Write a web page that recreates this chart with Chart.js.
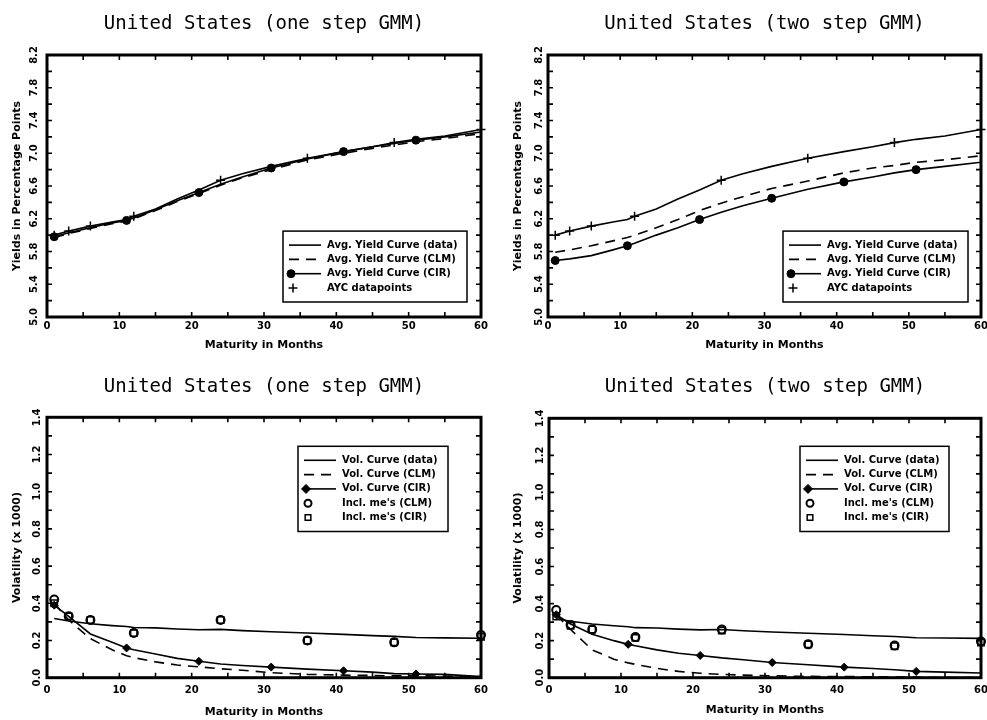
<!DOCTYPE html>
<html>
<head>
<meta charset="utf-8">
<title>United States GMM yield and volatility curves</title>
<script src="https://cdn.jsdelivr.net/npm/chart.js@4.4.1/dist/chart.umd.min.js"></script>
<style>
  body { margin: 0; background: #fff; }
  #page { position: relative; width: 987px; height: 720px; overflow: hidden; }
  canvas { position: absolute; }
</style>
</head>
<body>
<div id="page">
  <canvas id="yieldOne" width="493" height="360" style="left:0;top:0"></canvas>
  <canvas id="yieldTwo" width="494" height="360" style="left:493px;top:0"></canvas>
  <canvas id="volOne" width="493" height="360" style="left:0;top:360px"></canvas>
  <canvas id="volTwo" width="494" height="360" style="left:493px;top:360px"></canvas>
</div>
<script>
// Maturities (months) of the curve points
const months = [1, 3, 6, 9, 11, 12, 15, 18, 21, 24, 27, 31, 36, 41, 45, 48, 51, 55, 60];
// Maturities of the observed datapoints / implied vols
const obsMonths = [1, 3, 6, 12, 24, 36, 48, 60];
// Where the CIR curve carries a marker
const cirMarkerMonths = [1, 11, 21, 31, 41, 51];

// Average yield curve, percentage points
const yieldData = [6.00, 6.05, 6.11, 6.16, 6.19, 6.23, 6.32, 6.44, 6.55, 6.67, 6.75, 6.84, 6.94, 7.02, 7.08, 7.13, 7.17, 7.21, 7.29];
const yieldDatapoints = [6.00, 6.05, 6.11, 6.23, 6.67, 6.94, 7.13, 7.29];
const yieldClmOne = [5.97, 6.02, 6.08, 6.14, 6.17, 6.20, 6.30, 6.41, 6.51, 6.61, 6.70, 6.80, 6.92, 7.00, 7.06, 7.10, 7.14, 7.18, 7.24];
const yieldCirOne = [5.98, 6.03, 6.09, 6.15, 6.18, 6.21, 6.31, 6.42, 6.52, 6.62, 6.71, 6.82, 6.93, 7.02, 7.08, 7.12, 7.16, 7.20, 7.26];
const yieldClmTwo = [5.79, 5.82, 5.87, 5.93, 5.97, 6.00, 6.09, 6.19, 6.30, 6.39, 6.47, 6.57, 6.66, 6.76, 6.82, 6.85, 6.89, 6.92, 6.97];
const yieldCirTwo = [5.69, 5.71, 5.75, 5.82, 5.87, 5.90, 6.00, 6.09, 6.19, 6.28, 6.36, 6.45, 6.56, 6.65, 6.71, 6.76, 6.80, 6.84, 6.89];

// Volatility curve (x 1000)
const volData = [0.318, 0.305, 0.29, 0.28, 0.275, 0.27, 0.268, 0.262, 0.258, 0.26, 0.253, 0.247, 0.24, 0.233, 0.226, 0.222, 0.216, 0.214, 0.212];
const volClmOne = [0.40, 0.31, 0.21, 0.15, 0.118, 0.108, 0.085, 0.068, 0.058, 0.048, 0.04, 0.027, 0.018, 0.014, 0.012, 0.01, 0.01, 0.009, 0.006];
const volCirOne = [0.39, 0.33, 0.235, 0.19, 0.16, 0.15, 0.127, 0.104, 0.088, 0.074, 0.066, 0.057, 0.046, 0.037, 0.03, 0.022, 0.02, 0.018, 0.006];
const volClmTwo = [0.34, 0.26, 0.15, 0.10, 0.08, 0.072, 0.05, 0.034, 0.024, 0.018, 0.014, 0.01, 0.007, 0.006, 0.005, 0.004, 0.003, 0.001, 0.0];
const volCirTwo = [0.34, 0.29, 0.235, 0.2, 0.18, 0.172, 0.15, 0.132, 0.12, 0.107, 0.097, 0.082, 0.07, 0.057, 0.05, 0.043, 0.034, 0.03, 0.025];
const implClmOne = [0.42, 0.33, 0.31, 0.24, 0.31, 0.20, 0.19, 0.23];
const implCirOne = [0.40, 0.33, 0.31, 0.24, 0.31, 0.20, 0.19, 0.22];
const implClmTwo = [0.365, 0.285, 0.26, 0.219, 0.26, 0.18, 0.174, 0.195];
const implCirTwo = [0.33, 0.28, 0.26, 0.215, 0.255, 0.18, 0.17, 0.19];

const FONT = '"DejaVu Sans", sans-serif';
Chart.defaults.color = '#000';
Chart.defaults.font.family = FONT;

function xy(xs, ys) {
    return xs.map((x, i) => ({ x: x, y: ys[i] }));
}

const cirRadius = ctx => (ctx.raw && cirMarkerMonths.includes(ctx.raw.x)) ? 4 : 0;

function lineSet(label, data, extra) {
    return Object.assign({
        label: label,
        data: data,
        borderColor: '#000',
        backgroundColor: '#000',
        borderWidth: 1.6,
        pointRadius: 0,
        tension: 0,
    }, extra || {});
}

function yieldDatasets(clm, cir) {
    return [
        lineSet('Avg. Yield Curve (data)', xy(months, yieldData)),
        lineSet('Avg. Yield Curve (CLM)', xy(months, clm), { borderDash: [10, 7] }),
        lineSet('Avg. Yield Curve (CIR)', xy(months, cir), {
            pointStyle: 'circle', pointRadius: cirRadius, pointBackgroundColor: '#000',
            pointBorderWidth: 1, legendRadius: 4, legendAtLineStart: true,
        }),
        lineSet('AYC datapoints', xy(obsMonths, yieldDatapoints), {
            showLine: false, pointStyle: 'cross', pointRadius: 4.5, pointBorderWidth: 1.5,
            pointBackgroundColor: 'rgba(0,0,0,0)', legendRadius: 4.5, clip: false,
        }),
    ];
}

function volDatasets(clm, cir, implClm, implCir) {
    return [
        lineSet('Vol. Curve (data)', xy(months, volData)),
        lineSet('Vol. Curve (CLM)', xy(months, clm), { borderDash: [10, 7] }),
        lineSet('Vol. Curve (CIR)', xy(months, cir), {
            pointStyle: 'rectRot', pointRadius: cirRadius, pointBackgroundColor: '#000',
            pointBorderWidth: 1, legendRadius: 4.5, legendAtLineStart: true,
        }),
        lineSet("Incl. me's (CLM)", xy(obsMonths, implClm), {
            showLine: false, pointStyle: 'circle', pointRadius: 4, pointBorderWidth: 2,
            pointBackgroundColor: 'rgba(0,0,0,0)', legendRadius: 3.5, clip: false,
        }),
        lineSet("Incl. me's (CIR)", xy(obsMonths, implCir), {
            showLine: false, pointStyle: 'rect', pointRadius: 4.5, pointBorderWidth: 1.5,
            pointBackgroundColor: 'rgba(0,0,0,0)', legendRadius: 4, clip: false,
        }),
    ];
}

// Thick frame with inward tick marks on all four sides
const frameTicks = {
    id: 'frameTicks',
    afterDatasetsDraw(chart) {
        const { ctx, chartArea: a, scales: { x, y } } = chart;
        ctx.save();
        ctx.strokeStyle = '#000';
        ctx.lineWidth = 1.6;
        ctx.beginPath();
        x.ticks.forEach(t => {
            const px = x.getPixelForValue(t.value);
            ctx.moveTo(px, a.bottom); ctx.lineTo(px, a.bottom - 5);
            ctx.moveTo(px, a.top); ctx.lineTo(px, a.top + 5);
        });
        y.ticks.forEach(t => {
            const py = y.getPixelForValue(t.value);
            ctx.moveTo(a.left, py); ctx.lineTo(a.left + 5, py);
            ctx.moveTo(a.right, py); ctx.lineTo(a.right - 5, py);
        });
        ctx.stroke();
        ctx.lineWidth = 3;
        ctx.strokeRect(a.left, a.top, a.right - a.left, a.bottom - a.top);
        ctx.restore();
    }
};

// Boxed legend inside the plot area
const boxLegend = {
    id: 'boxLegend',
    afterDraw(chart, args, opts) {
        const { ctx, chartArea: a } = chart;
        const sets = chart.data.datasets;
        const rowH = 14.3, pad = 14;
        const h = pad * 2 + (sets.length - 1) * rowH;
        const x0 = a.right - opts.right - opts.width;
        const y0 = opts.top != null ? a.top + opts.top : a.bottom - opts.bottom - h;
        ctx.save();
        ctx.fillStyle = '#fff';
        ctx.fillRect(x0, y0, opts.width, h);
        ctx.strokeStyle = '#000';
        ctx.lineWidth = 1.5;
        ctx.strokeRect(x0, y0, opts.width, h);
        ctx.font = 'bold 10px ' + FONT;
        ctx.textBaseline = 'middle';
        sets.forEach((ds, i) => {
            const yy = y0 + pad + i * rowH;
            if (ds.showLine !== false) {
                ctx.setLineDash(ds.borderDash || []);
                ctx.lineWidth = ds.borderWidth;
                ctx.beginPath();
                ctx.moveTo(x0 + 6, yy);
                ctx.lineTo(x0 + 38, yy);
                ctx.stroke();
                ctx.setLineDash([]);
            }
            if (ds.legendRadius) {
                ctx.fillStyle = ds.pointBackgroundColor;
                ctx.strokeStyle = '#000';
                ctx.lineWidth = ds.pointBorderWidth;
                Chart.helpers.drawPoint(ctx, {
                    pointStyle: ds.pointStyle, radius: ds.legendRadius,
                    borderWidth: ds.pointBorderWidth, rotation: 0,
                }, x0 + (ds.legendAtLineStart ? 8 : 10), yy);
            }
            ctx.fillStyle = '#000';
            ctx.fillText(ds.label, x0 + 44, yy);
        });
        ctx.restore();
    }
};

function makePanel(canvasId, p) {
    const canvas = document.getElementById(canvasId);
    const tickFont = { family: FONT, size: 10, weight: 'bold' };
    const axisFont = { family: FONT, size: 11, weight: 'bold', lineHeight: 1.2 };
    return new Chart(canvas, {
        type: 'line',
        data: { datasets: p.datasets },
        plugins: [frameTicks, boxLegend],
        options: {
            responsive: false,
            animation: false,
            events: [],
            layout: { padding: { left: 0, right: canvas.width - p.right, top: 0, bottom: 0 } },
            plugins: {
                legend: { display: false },
                tooltip: { enabled: false },
                title: {
                    display: true,
                    text: p.title,
                    fullSize: false,
                    color: '#000',
                    font: { family: '"DejaVu Sans Mono", monospace', size: 19, weight: 'normal', lineHeight: 1.2 },
                    padding: { top: p.titleTop, bottom: p.top - p.titleTop - 22.8 },
                },
                boxLegend: p.legend,
            },
            scales: {
                x: {
                    type: 'linear',
                    min: 0,
                    max: 60,
                    grid: { display: false, drawTicks: false },
                    border: { display: false },
                    ticks: {
                        stepSize: 5,
                        autoSkip: false,
                        maxRotation: 0,
                        padding: p.xTickPad,
                        font: tickFont,
                        color: '#000',
                        callback: (v, i) => i % 2 === 0 ? String(v) : '',
                    },
                    title: {
                        display: true,
                        text: 'Maturity in Months',
                        font: axisFont,
                        color: '#000',
                        padding: { top: 0, bottom: p.xTitlePad },
                    },
                    afterFit: s => {
                        s.height = canvas.height - p.bottom;
                        s.paddingLeft = 0;
                        s.paddingRight = 0;
                    },
                },
                y: {
                    type: 'linear',
                    min: p.yMin,
                    max: p.yMax,
                    grid: { display: false, drawTicks: false },
                    border: { display: false },
                    ticks: {
                        stepSize: p.yStep,
                        autoSkip: false,
                        minRotation: 90,
                        maxRotation: 90,
                        crossAlign: 'center',
                        padding: p.yTickPad,
                        font: tickFont,
                        color: '#000',
                        callback: (v, i) => i % 2 === 0 ? v.toFixed(1) : '',
                    },
                    title: {
                        display: true,
                        text: p.yTitle,
                        font: axisFont,
                        color: '#000',
                        padding: { top: p.yTitlePad, bottom: 0 },
                    },
                    afterFit: s => {
                        s.width = p.left;
                        s.paddingTop = 0;
                        s.paddingBottom = 0;
                    },
                },
            },
        },
    });
}

makePanel('yieldOne', {
    title: 'United States (one step GMM)',
    datasets: yieldDatasets(yieldClmOne, yieldCirOne),
    yTitle: 'Yields in Percentage Points', yMin: 5.0, yMax: 8.2, yStep: 0.2,
    left: 47, right: 481, top: 55, bottom: 317, titleTop: 12.6,
    yTickPad: 4, yTitlePad: 10.4, xTickPad: 3, xTitlePad: 8.4,
    legend: { right: 14, bottom: 15, width: 184 },
});

makePanel('yieldTwo', {
    title: 'United States (two step GMM)',
    datasets: yieldDatasets(yieldClmTwo, yieldCirTwo),
    yTitle: 'Yields in Percentage Points', yMin: 5.0, yMax: 8.2, yStep: 0.2,
    left: 55, right: 490, top: 55, bottom: 317, titleTop: 12.6,
    yTickPad: 0, yTitlePad: 18.4, xTickPad: 3, xTitlePad: 8.4,
    legend: { right: 13, bottom: 15, width: 185 },
});

makePanel('volOne', {
    title: 'United States (one step GMM)',
    datasets: volDatasets(volClmOne, volCirOne, implClmOne, implCirOne),
    yTitle: 'Volatility (x 1000)', yMin: 0, yMax: 1.4, yStep: 0.1,
    left: 47, right: 481, top: 57.3, bottom: 317.7, titleTop: 16.1,
    yTickPad: 1.2, yTitlePad: 10.4, xTickPad: 7, xTitlePad: 1.7,
    legend: { right: 33, top: 29, width: 150 },
});

makePanel('volTwo', {
    title: 'United States (two step GMM)',
    datasets: volDatasets(volClmTwo, volCirTwo, implClmTwo, implCirTwo),
    yTitle: 'Volatility (x 1000)', yMin: 0, yMax: 1.4, yStep: 0.1,
    left: 56, right: 490, top: 58.3, bottom: 317.7, titleTop: 15.6,
    yTickPad: 0, yTitlePad: 18.4, xTickPad: 7, xTitlePad: 3.4,
    legend: { right: 32, top: 28, width: 149 },
});
</script>
</body>
</html>
